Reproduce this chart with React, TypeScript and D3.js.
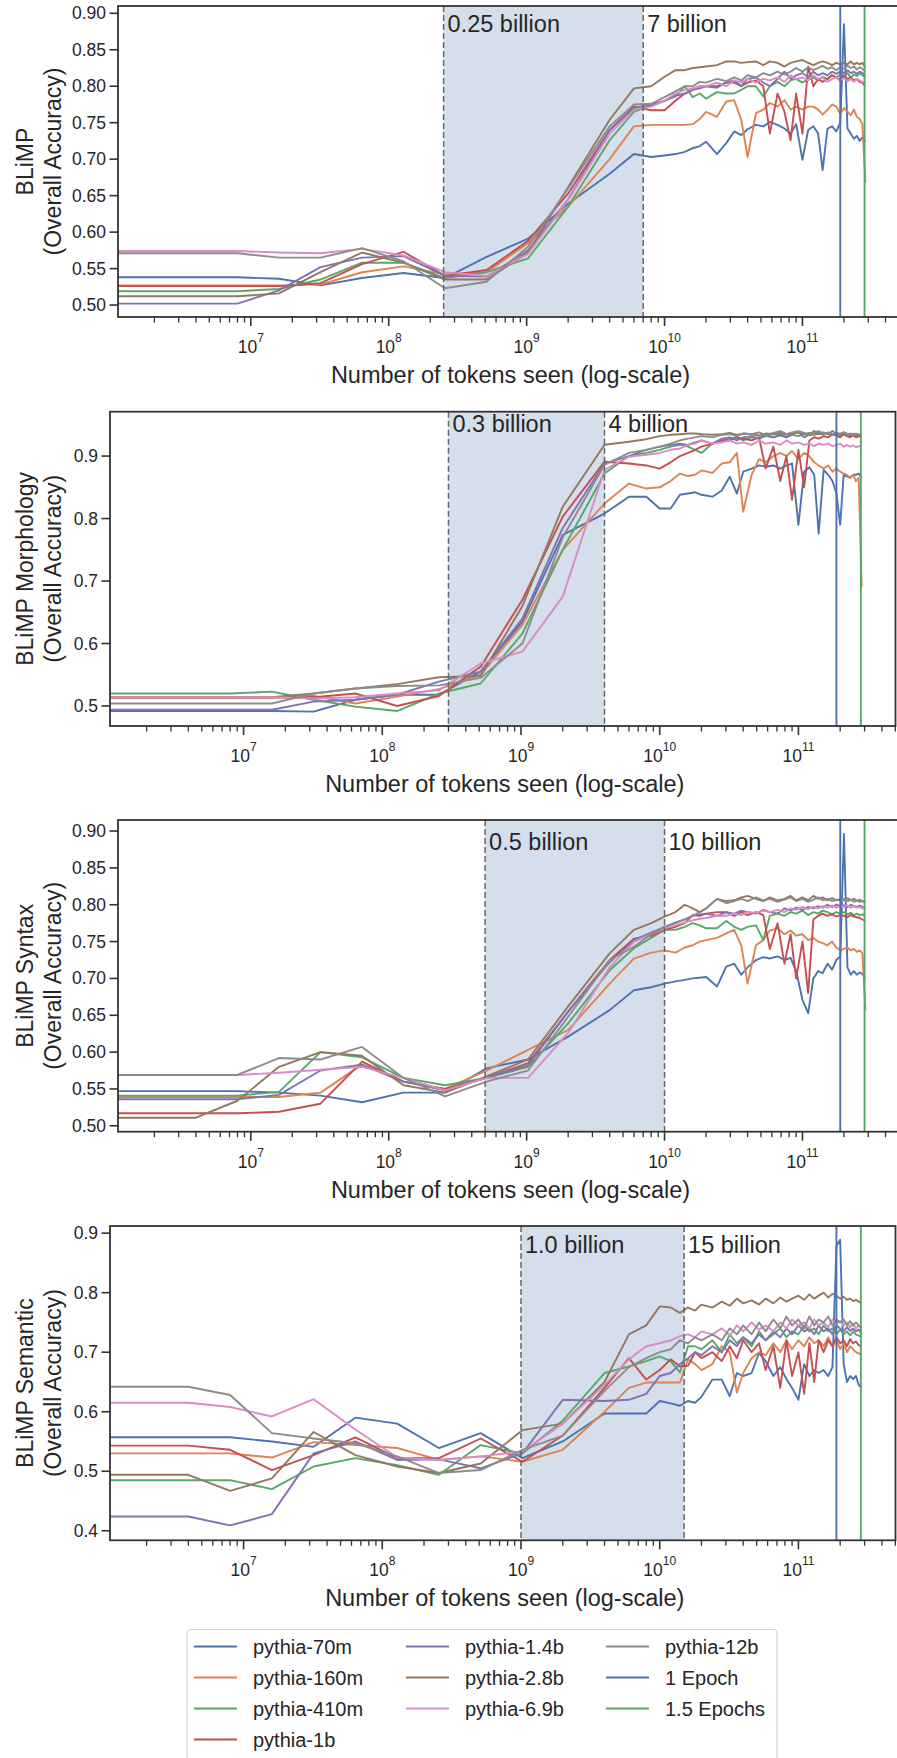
import React from 'react';
import * as d3 from 'd3';

// ---------- data ----------
const STEPS = [1, 2, 4, 8, 16, 32, 64, 128, 256, 512,
  1000, 2000, 3000, 4000, 5000, 6000, 7000, 8000, 9000, 10000,
  12000, 14000, 16000, 18000, 20000,
  23000, 26000, 29000,
  33000, 37000, 41000, 45000,
  50000, 55000, 60000, 65000, 70000,
  76000, 82000, 88000, 94000, 100000, 106000, 112000, 118000, 124000, 130000, 136000,
  143000];
const TOKENS_PER_STEP = 2e6;

const MODEL_NAMES = ['pythia-70m', 'pythia-160m', 'pythia-410m', 'pythia-1b', 'pythia-1.4b', 'pythia-2.8b', 'pythia-6.9b', 'pythia-12b'];
const EPOCH_NAMES = ['1 Epoch', '1.5 Epochs'];
const EPOCH_TOKENS = [1.88e11, 2.82e11];
const X_DOMAIN = [10 ** 6.037, 10 ** 11.7];
const X_MAJOR = [1e7, 1e8, 1e9, 1e10, 1e11];

const Y_TICKS_005 = [0.5, 0.55, 0.6, 0.65, 0.7, 0.75, 0.8, 0.85, 0.9];
const Y_TICKS_MOR = [0.5, 0.6, 0.7, 0.8, 0.9];
const Y_TICKS_SEM = [0.4, 0.5, 0.6, 0.7, 0.8, 0.9];

// BLiMP overall
const OVR_70M = [.538, .538, .538, .536, .527, .537, .544, .537, .566, .591,
  .639, .680, .707, .703, .705, .707, .710, .715, .718, .724,
  .707, .722, .738, .733, .741, .747, .745, .751, .747, .742, .735, .748,
  .699, .740, .745, .735, .685,
  .742, .745, .738, .750, .885, .742, .735, .728, .732, .725, .730, .724];
const OVR_160M = [.527, .527, .527, .527, .528, .545, .553, .542, .545, .585,
  .635, .700, .745, .747, .747, .747, .747, .748, .755, .765,
  .758, .779, .781, .754, .703, .763, .768, .777, .772, .781, .768, .772,
  .768, .772, .772, .768, .761,
  .768, .775, .772, .762, .770, .765, .760, .768, .758, .755, .748, .668];
const OVR_410M = [.519, .519, .519, .522, .535, .558, .558, .537, .545, .564,
  .635, .726, .765, .774, .780, .786, .800, .785, .790, .783,
  .792, .790, .790, .795, .800, .800, .786, .800, .806, .800, .808, .810,
  .805, .810, .812, .808, .813,
  .810, .815, .812, .816, .813, .818, .812, .816, .814, .818, .815, .812];
const OVR_1B = [.526, .526, .526, .526, .530, .556, .573, .540, .548, .588,
  .653, .740, .772, .767, .767, .780, .790, .795, .800, .800,
  .800, .805, .805, .800, .805, .808, .800, .735, .790, .765, .726, .790,
  .735, .827, .800, .810, .806,
  .810, .815, .812, .808, .815, .810, .812, .808, .810, .806, .805, .800];
const OVR_1_4B = [.502, .502, .502, .520, .552, .565, .567, .540, .539, .575,
  .645, .740, .770, .775, .780, .787, .790, .795, .797, .800,
  .798, .805, .808, .800, .810, .812, .805, .800, .810, .820, .810, .815,
  .818, .812, .820, .815, .818,
  .815, .820, .817, .820, .818, .822, .818, .820, .817, .820, .818, .815];
const OVR_2_8B = [.512, .512, .512, .516, .545, .572, .558, .535, .535, .572,
  .662, .754, .797, .800, .813, .822, .822, .825, .826, .827,
  .829, .834, .834, .832, .833, .834, .829, .834, .832, .827, .832, .834,
  .836, .832, .829, .832, .834,
  .832, .829, .832, .830, .832, .830, .834, .830, .832, .830, .832, .826];
const OVR_6_9B = [.574, .574, .574, .572, .571, .577, .568, .545, .540, .570,
  .644, .735, .768, .772, .780, .790, .795, .797, .800, .800,
  .805, .800, .808, .805, .810, .805, .810, .808, .812, .806, .815, .810,
  .812, .808, .815, .810, .812,
  .806, .810, .812, .808, .811, .807, .810, .806, .810, .808, .806, .805];
const OVR_12B = [.571, .571, .571, .565, .565, .578, .560, .523, .532, .580,
  .660, .745, .775, .776, .785, .793, .800, .800, .806, .805,
  .810, .807, .812, .808, .815, .812, .818, .815, .820, .816, .820, .825,
  .820, .826, .822, .825, .828,
  .824, .826, .822, .826, .824, .828, .825, .827, .823, .826, .824, .820];

// BLiMP morphology
const MOR_70M = [.492, .492, .492, .492, .491, .510, .518, .518, .555, .635,
  .774, .808, .835, .835, .816, .816, .838, .840, .842, .838,
  .835, .845, .867, .840, .875, .880, .885, .883, .885, .880, .885, .888,
  .790, .875, .882, .870, .776,
  .878, .870, .860, .840, .790, .870, .868, .865, .870, .870, .872, .865];
const MOR_160M = [.513, .513, .513, .513, .516, .504, .515, .527, .550, .630,
  .750, .824, .856, .848, .850, .860, .872, .868, .870, .877,
  .873, .888, .890, .905, .811, .870, .895, .890, .900, .905, .900, .908,
  .895, .905, .900, .890, .885,
  .880, .885, .875, .880, .875, .872, .870, .865, .870, .860, .865, .690];
const MOR_410M = [.520, .520, .520, .523, .510, .499, .492, .520, .536, .616,
  .750, .872, .900, .905, .910, .915, .918, .915, .910, .905,
  .920, .925, .928, .930, .925, .930, .928, .932, .930, .935, .930, .934,
  .932, .936, .933, .935, .938,
  .935, .937, .934, .936, .935, .937, .935, .936, .934, .935, .933, .932];
const MOR_1B = [.514, .514, .514, .514, .514, .520, .500, .516, .563, .670,
  .803, .891, .888, .885, .880, .890, .900, .905, .910, .915,
  .920, .925, .925, .930, .928, .925, .930, .880, .915, .860, .900, .830,
  .910, .850, .925, .930, .928,
  .932, .930, .935, .933, .930, .935, .932, .930, .933, .930, .932, .930];
const MOR_1_4B = [.494, .494, .494, .494, .507, .510, .518, .539, .555, .640,
  .785, .888, .900, .910, .915, .918, .920, .918, .922, .925,
  .920, .928, .930, .925, .930, .932, .928, .935, .930, .933, .930, .935,
  .938, .930, .935, .940, .935,
  .938, .935, .940, .936, .934, .938, .935, .933, .936, .934, .933, .932];
const MOR_2_8B = [.514, .514, .514, .514, .520, .528, .535, .546, .548, .660,
  .819, .918, .923, .927, .932, .934, .935, .936, .936, .935,
  .934, .935, .937, .934, .936, .935, .933, .936, .935, .937, .934, .936,
  .938, .935, .937, .934, .936,
  .935, .937, .934, .936, .935, .934, .936, .934, .935, .933, .934, .933];
const MOR_6_9B = [.514, .514, .514, .514, .512, .514, .520, .525, .568, .587,
  .675, .878, .899, .902, .905, .910, .912, .918, .920, .925,
  .920, .922, .925, .920, .922, .918, .925, .920, .922, .918, .925, .920,
  .922, .918, .920, .916, .920,
  .918, .920, .916, .918, .920, .915, .918, .915, .917, .914, .916, .915];
const MOR_12B = [.504, .504, .504, .504, .520, .528, .532, .533, .545, .600,
  .770, .886, .905, .910, .915, .920, .925, .928, .930, .932,
  .930, .934, .935, .932, .936, .935, .938, .934, .937, .940, .935, .938,
  .940, .937, .935, .938, .940,
  .936, .938, .935, .937, .936, .938, .935, .936, .934, .936, .935, .934];

// BLiMP syntax
const SYN_70M = [.547, .547, .547, .545, .541, .532, .545, .545, .578, .590,
  .621, .657, .684, .688, .693, .696, .698, .700, .701, .702,
  .689, .716, .720, .705, .715, .725, .729, .727, .730, .725, .728, .710,
  .671, .653, .700, .710, .707,
  .720, .712, .725, .730, .896, .715, .705, .710, .705, .708, .706, .700];
const SYN_160M = [.539, .539, .539, .539, .545, .583, .560, .550, .575, .603,
  .630, .693, .727, .735, .738, .735, .742, .745, .750, .752,
  .755, .761, .766, .745, .693, .745, .752, .765, .768, .760, .765, .758,
  .760, .752, .755, .750, .748,
  .745, .750, .742, .738, .740, .742, .738, .740, .736, .738, .734, .657];
const SYN_410M = [.541, .541, .541, .546, .600, .593, .565, .555, .565, .580,
  .639, .711, .741, .755, .766, .766, .770, .775, .772, .768,
  .768, .778, .770, .766, .770, .772, .752, .785, .788, .785, .790, .788,
  .792, .786, .790, .788, .792,
  .790, .787, .790, .788, .790, .787, .789, .786, .788, .786, .787, .785];
const SYN_1B = [.517, .517, .517, .519, .530, .587, .560, .550, .565, .585,
  .655, .725, .754, .758, .766, .770, .775, .786, .785, .788,
  .790, .790, .785, .790, .786, .790, .786, .740, .775, .720, .760, .700,
  .750, .680, .780, .785, .788,
  .785, .787, .784, .786, .785, .783, .786, .784, .783, .782, .780, .778];
const SYN_1_4B = [.536, .536, .536, .542, .575, .583, .560, .548, .565, .582,
  .655, .722, .752, .762, .770, .775, .780, .785, .787, .788,
  .785, .790, .788, .792, .790, .788, .793, .790, .788, .795, .792, .796,
  .793, .797, .795, .798, .796,
  .800, .797, .800, .798, .799, .797, .800, .798, .797, .799, .797, .795];
const SYN_2_8B = [.511, .511, .534, .580, .600, .595, .555, .545, .567, .590,
  .662, .734, .766, .775, .784, .790, .800, .795, .790, .795,
  .808, .805, .806, .810, .812, .808, .805, .810, .806, .808, .812, .806,
  .810, .806, .812, .808, .810,
  .806, .809, .806, .808, .806, .809, .806, .808, .805, .807, .805, .803];
const SYN_6_9B = [.569, .569, .569, .572, .576, .580, .565, .548, .565, .565,
  .626, .715, .750, .760, .768, .772, .776, .779, .781, .782,
  .785, .785, .788, .786, .790, .789, .792, .790, .793, .790, .795, .793,
  .797, .794, .797, .795, .798,
  .796, .799, .796, .798, .797, .799, .796, .798, .796, .797, .795, .796];
const SYN_12B = [.569, .569, .569, .592, .590, .607, .565, .540, .560, .575,
  .648, .725, .743, .760, .770, .776, .780, .785, .790, .795,
  .808, .802, .805, .808, .805, .810, .806, .808, .804, .807, .810, .805,
  .808, .804, .807, .810, .806,
  .808, .805, .807, .806, .808, .805, .807, .804, .806, .804, .805, .804];

// BLiMP semantic
const SEM_70M = [.557, .557, .557, .550, .541, .590, .580, .539, .564, .522,
  .550, .597, .597, .597, .618, .614, .610, .618, .615, .625,
  .654, .654, .626, .665, .660, .665, .699, .685, .660, .675, .655, .640,
  .620, .680, .660, .670, .665,
  .670, .660, .675, .878, .889, .680, .650, .660, .655, .660, .645, .640];
const SEM_160M = [.530, .530, .530, .523, .549, .544, .539, .519, .525, .516,
  .536, .600, .640, .649, .649, .649, .649, .688, .680, .670,
  .680, .710, .700, .632, .665, .690, .700, .695, .715, .700, .720, .705,
  .720, .710, .725, .715, .720,
  .710, .725, .710, .720, .705, .715, .700, .710, .705, .700, .698, .695];
const SEM_410M = [.485, .485, .485, .470, .508, .522, .510, .494, .544, .530,
  .585, .665, .676, .685, .693, .685, .666, .710, .710, .705,
  .720, .700, .730, .715, .725, .710, .735, .720, .730, .740, .725, .735,
  .730, .745, .735, .740, .730,
  .745, .735, .740, .730, .738, .730, .735, .728, .735, .730, .728, .725];
const SEM_1B = [.543, .543, .536, .502, .527, .557, .522, .522, .555, .516,
  .560, .640, .690, .654, .670, .688, .676, .677, .700, .690,
  .700, .685, .710, .690, .720, .700, .715, .670, .710, .640, .720, .660,
  .700, .630, .715, .650, .720,
  .700, .720, .710, .725, .715, .720, .710, .722, .715, .718, .712, .710];
const SEM_1_4B = [.424, .424, .409, .428, .530, .550, .519, .520, .505, .530,
  .620, .618, .620, .630, .660, .665, .680, .690, .700, .695,
  .710, .700, .720, .710, .725, .715, .730, .720, .735, .725, .740, .730,
  .745, .735, .740, .730, .745,
  .735, .740, .730, .745, .740, .735, .742, .736, .740, .735, .738, .730];
const SEM_2_8B = [.494, .494, .467, .488, .566, .527, .508, .497, .513, .569,
  .580, .650, .730, .745, .777, .775, .766, .775, .770, .780,
  .775, .785, .778, .790, .782, .787, .780, .790, .782, .792, .785, .790,
  .795, .788, .797, .790, .795,
  .800, .792, .798, .795, .790, .793, .788, .790, .786, .788, .785, .782];
const SEM_6_9B = [.615, .615, .608, .592, .621, .570, .523, .519, .525, .533,
  .580, .645, .688, .710, .715, .720, .727, .730, .725, .735,
  .730, .740, .728, .745, .735, .750, .738, .745, .735, .750, .740, .755,
  .745, .750, .740, .755, .745,
  .750, .742, .755, .748, .752, .745, .750, .742, .748, .740, .745, .740];
const SEM_12B = [.642, .642, .628, .564, .555, .547, .525, .497, .502, .536,
  .560, .635, .675, .690, .700, .705, .720, .715, .725, .720,
  .730, .720, .740, .730, .745, .730, .750, .735, .755, .740, .760, .745,
  .755, .740, .760, .745, .755,
  .750, .760, .745, .755, .750, .755, .745, .752, .745, .750, .745, .740];

// ---------- styles / layout ----------
const MODEL_COLORS = ['#4C72B0', '#DD8452', '#55A868', '#C44E52', '#8172B3', '#937860', '#DA8BC3', '#8C8C8C'];
const EPOCH_COLORS = ['#4C72B0', '#55A868'];
const FONT = '"Liberation Sans", Arial, Helvetica, sans-serif';
const INK = '#262626';
const SPINE = '#333333';

type PanelCfg = {
  ylabel: string[];
  series: number[][];
  yDomain: [number, number];
  yTicks: number[];
  fmt: string;
  span: [number, number];
  spanLabels: [string, string];
  annY: number;
  left: number; right: number; top: number; bottom: number;
};

const PANELS: PanelCfg[] = [
  {
    ylabel: ['BLiMP', '(Overall Accuracy)'],
    series: [OVR_70M, OVR_160M, OVR_410M, OVR_1B, OVR_1_4B, OVR_2_8B, OVR_6_9B, OVR_12B],
    yDomain: [0.4836, 0.910], yTicks: Y_TICKS_005, fmt: '.2f',
    span: [2.5e8, 7e9], spanLabels: ['0.25 billion', '7 billion'], annY: 0.875,
    left: 118, right: 899, top: 6, bottom: 317,
  },
  {
    ylabel: ['BLiMP Morphology', '(Overall Accuracy)'],
    series: [MOR_70M, MOR_160M, MOR_410M, MOR_1B, MOR_1_4B, MOR_2_8B, MOR_6_9B, MOR_12B],
    yDomain: [0.468, 0.971], yTicks: Y_TICKS_MOR, fmt: '.1f',
    span: [3e8, 4e9], spanLabels: ['0.3 billion', '4 billion'], annY: 0.939,
    left: 110, right: 895.5, top: 411.7, bottom: 726,
  },
  {
    ylabel: ['BLiMP Syntax', '(Overall Accuracy)'],
    series: [SYN_70M, SYN_160M, SYN_410M, SYN_1B, SYN_1_4B, SYN_2_8B, SYN_6_9B, SYN_12B],
    yDomain: [0.492, 0.915], yTicks: Y_TICKS_005, fmt: '.2f',
    span: [5e8, 1e10], spanLabels: ['0.5 billion', '10 billion'], annY: 0.874,
    left: 118, right: 899, top: 820, bottom: 1131.7,
  },
  {
    ylabel: ['BLiMP Semantic', '(Overall Accuracy)'],
    series: [SEM_70M, SEM_160M, SEM_410M, SEM_1B, SEM_1_4B, SEM_2_8B, SEM_6_9B, SEM_12B],
    yDomain: [0.384, 0.912], yTicks: Y_TICKS_SEM, fmt: '.1f',
    span: [1e9, 1.5e10], spanLabels: ['1.0 billion', '15 billion'], annY: 0.867,
    left: 110, right: 895.5, top: 1226, bottom: 1540.3,
  },
];

function Panel({ p, idx }: { p: PanelCfg; idx: number }) {
  const x = d3.scaleLog().domain(X_DOMAIN).range([p.left, p.right]);
  const y = d3.scaleLinear().domain(p.yDomain).range([p.bottom, p.top]);
  const line = d3.line<[number, number]>().x(d => x(d[0])).y(d => y(d[1]));
  const fmt = d3.format(p.fmt);
  const clipId = `clip-${idx}`;
  const [d0] = x.domain();
  const minor: number[] = [];
  for (let e = 6; e <= 11; e++) {
    for (let m = 2; m <= 9; m++) {
      const v = m * 10 ** e;
      if (v >= X_DOMAIN[0] && v <= X_DOMAIN[1]) minor.push(v);
    }
  }
  const cy = (p.top + p.bottom) / 2;
  const cx = (p.left + p.right) / 2 + 2;
  return (
    <g>
      <defs>
        <clipPath id={clipId}>
          <rect x={p.left} y={p.top} width={p.right - p.left} height={p.bottom - p.top} />
        </clipPath>
      </defs>
      <g clipPath={`url(#${clipId})`}>
        <rect x={x(p.span[0])} y={p.top} width={x(p.span[1]) - x(p.span[0])} height={p.bottom - p.top} fill="#d5deeb" />
        {p.series.map((vals, i) => {
          const n = Math.min(vals.length, STEPS.length);
          const pts: [number, number][] = [[d0, vals[0]]];
          for (let k = 0; k < n; k++) pts.push([STEPS[k] * TOKENS_PER_STEP, vals[k]]);
          return <path key={i} d={line(pts) || ''} fill="none" stroke={MODEL_COLORS[i]} strokeWidth={1.9} strokeLinejoin="round" />;
        })}
        {p.span.map((v, i) => (
          <line key={i} x1={x(v)} x2={x(v)} y1={p.top} y2={p.bottom} stroke="#666" strokeWidth={1.5} strokeDasharray="6,3" />
        ))}
        {EPOCH_TOKENS.map((v, i) => (
          <line key={i} x1={x(v)} x2={x(v)} y1={p.top} y2={p.bottom} stroke={EPOCH_COLORS[i]} strokeWidth={1.9} />
        ))}
      </g>
      {p.spanLabels.map((t, i) => (
        <text key={i} x={x(p.span[i]) + 4} y={y(p.annY)} fontSize={23.5} fill={INK} fontFamily={FONT}>{t}</text>
      ))}
      <rect x={p.left} y={p.top} width={p.right - p.left} height={p.bottom - p.top} fill="none" stroke={SPINE} strokeWidth={1.8} />
      {p.yTicks.map((t, i) => (
        <g key={i}>
          <line x1={p.left - 8.5} x2={p.left} y1={y(t)} y2={y(t)} stroke={SPINE} strokeWidth={1.6} />
          <text x={p.left - 12} y={y(t)} textAnchor="end" dominantBaseline="central" fontSize={17.5} fill={INK} fontFamily={FONT}>{fmt(t)}</text>
        </g>
      ))}
      {minor.map((v, i) => (
        <line key={i} x1={x(v)} x2={x(v)} y1={p.bottom} y2={p.bottom + 5.5} stroke={SPINE} strokeWidth={1.3} />
      ))}
      {X_MAJOR.map((v, i) => (
        <g key={i}>
          <line x1={x(v)} x2={x(v)} y1={p.bottom} y2={p.bottom + 9} stroke={SPINE} strokeWidth={1.6} />
          <text x={x(v)} y={p.bottom + 36} textAnchor="middle" fontSize={17.5} fill={INK} fontFamily={FONT}>
            <tspan>10</tspan>
            <tspan dy={-11} fontSize={12}>{Math.round(Math.log10(v))}</tspan>
          </text>
        </g>
      ))}
      <text x={cx} y={p.bottom + 58} textAnchor="middle" dominantBaseline="central" fontSize={23.5} fill={INK} fontFamily={FONT}>
        Number of tokens seen (log-scale)
      </text>
      <g transform={`translate(${25},${cy}) rotate(-90)`}>
        <text x={0} y={0} textAnchor="middle" dominantBaseline="central" fontSize={23} fill={INK} fontFamily={FONT}>{p.ylabel[0]}</text>
      </g>
      <g transform={`translate(${53},${cy}) rotate(-90)`}>
        <text x={0} y={0} textAnchor="middle" dominantBaseline="central" fontSize={23} fill={INK} fontFamily={FONT}>{p.ylabel[1]}</text>
      </g>
    </g>
  );
}

function Legend() {
  const entries = [
    ...MODEL_NAMES.map((n, i) => ({ name: n, color: MODEL_COLORS[i] })),
    ...EPOCH_NAMES.map((n, i) => ({ name: n, color: EPOCH_COLORS[i] })),
  ];
  const cols = [[0, 1, 2, 3], [4, 5, 6], [7, 8, 9]];
  const colX = [194, 406, 606];
  const rowY = [1646.5, 1677.5, 1708.5, 1739.5];
  return (
    <g>
      <rect x={187} y={1629.5} width={590} height={140} rx={4} fill="#fff" stroke="#d0d0d0" strokeWidth={1.2} />
      {cols.map((c, ci) => c.map((ei, ri) => (
        <g key={`${ci}-${ri}`}>
          <line x1={colX[ci]} x2={colX[ci] + 43} y1={rowY[ri]} y2={rowY[ri]} stroke={entries[ei].color} strokeWidth={1.9} />
          <text x={colX[ci] + 59} y={rowY[ri]} dominantBaseline="central" fontSize={20} fill={INK} fontFamily={FONT}>{entries[ei].name}</text>
        </g>
      )))}
    </g>
  );
}

export default function App() {
  return (
    <svg width={897} height={1758} style={{ position: 'absolute', left: 0, top: 0, background: '#fff' }}>
      <rect x={0} y={0} width={897} height={1758} fill="#fff" />
      {PANELS.map((p, i) => <Panel key={i} p={p} idx={i} />)}
      <Legend />
    </svg>
  );
}
